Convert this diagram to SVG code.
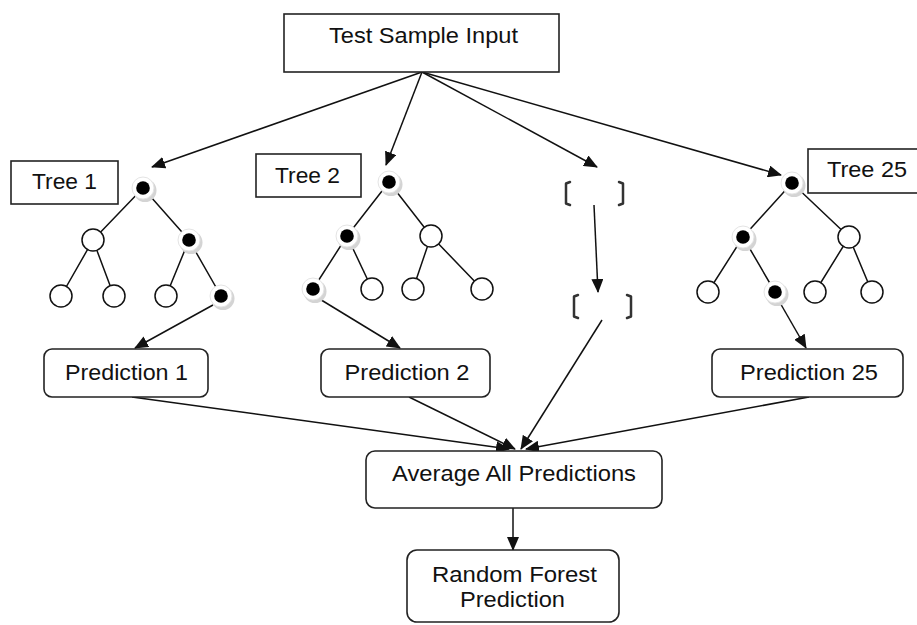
<svg xmlns="http://www.w3.org/2000/svg" width="917" height="625" viewBox="0 0 917 625">
<defs>
<marker id="ah" markerUnits="userSpaceOnUse" markerWidth="14" markerHeight="12" refX="13" refY="6" orient="auto">
<path d="M0,0 L14,6 L0,12 z" fill="#111"/>
</marker>
<g id="bn">
<circle cx="2" cy="2.5" r="11.5" fill="#d4d4d4"/>
<circle cx="0" cy="0" r="11" fill="#fff" stroke="#e4e4e4" stroke-width="1"/>
<circle cx="0" cy="0" r="6.8" fill="#000"/>
</g>
<g id="wn">
<circle cx="0" cy="0" r="11" fill="#fff" stroke="#111" stroke-width="1.5"/>
</g>
</defs>
<style>
text{font-family:"Liberation Sans",Arial,sans-serif;font-size:22px;fill:#111;text-anchor:middle}
.box{fill:#fff;stroke:#222;stroke-width:1.6}
.edge{stroke:#111;stroke-width:1.5;fill:none}
.conn line{stroke:#111;stroke-width:1.5;marker-end:url(#ah)}
.br{stroke:#333;stroke-width:2.5;fill:none;stroke-linecap:round;stroke-linejoin:round}
</style>
<rect width="917" height="625" fill="#fff"/>

<g id="connectors" class="conn">
<line x1="422" y1="72" x2="152" y2="167"/>
<line x1="422" y1="72" x2="386" y2="165"/>
<line x1="422" y1="72" x2="597" y2="167"/>
<line x1="422" y1="72" x2="781" y2="175"/>
<line x1="594" y1="205" x2="598" y2="292"/>
<line x1="213" y1="305" x2="135" y2="348"/>
<line x1="318" y1="298" x2="400" y2="348"/>
<line x1="779" y1="301" x2="806" y2="348"/>
<line x1="132" y1="397" x2="509" y2="449"/>
<line x1="409" y1="397" x2="515" y2="449"/>
<line x1="602" y1="320" x2="521" y2="449"/>
<line x1="809" y1="397" x2="526" y2="449"/>
<line x1="513" y1="508" x2="513" y2="550"/>
</g>

<g id="test-sample-input">
<rect class="box" x="284" y="14" width="275" height="58"/>
<text x="423.5" y="43" textLength="189" lengthAdjust="spacingAndGlyphs">Test Sample Input</text>
</g>

<g id="tree1-label">
<rect class="box" x="11" y="161" width="107" height="43"/>
<text x="64.5" y="189" textLength="65" lengthAdjust="spacingAndGlyphs">Tree 1</text>
</g>
<g id="tree2-label">
<rect class="box" x="256" y="154" width="105" height="43"/>
<text x="307.5" y="183" textLength="65" lengthAdjust="spacingAndGlyphs">Tree 2</text>
</g>
<g id="tree25-label">
<rect class="box" x="808" y="149" width="112" height="44"/>
<text x="867" y="177" textLength="80" lengthAdjust="spacingAndGlyphs">Tree 25</text>
</g>

<g id="tree1">
<path class="edge" d="M143,188 L93,240 M143,188 L189,240 M93,240 L61,296 M93,240 L114,296 M189,240 L166,296 M189,240 L221,296"/>
<use href="#bn" x="143" y="188"/>
<use href="#wn" x="93" y="240"/>
<use href="#bn" x="189" y="240"/>
<use href="#wn" x="61" y="296"/>
<use href="#wn" x="114" y="296"/>
<use href="#wn" x="166" y="296"/>
<use href="#bn" x="221" y="296"/>
</g>

<g id="tree2">
<path class="edge" d="M389,182 L347,236 M389,182 L431,236 M347,236 L313,289 M347,236 L372,289 M431,236 L413,289 M431,236 L482,289"/>
<use href="#bn" x="389" y="182"/>
<use href="#bn" x="347" y="236"/>
<use href="#wn" x="431" y="236"/>
<use href="#bn" x="313" y="289"/>
<use href="#wn" x="372" y="289"/>
<use href="#wn" x="413" y="289"/>
<use href="#wn" x="482" y="289"/>
</g>

<g id="tree25">
<path class="edge" d="M792,183 L743,237 M792,183 L849,237 M743,237 L708,292 M743,237 L775,292 M849,237 L815,292 M849,237 L872,292"/>
<use href="#bn" x="792" y="183"/>
<use href="#bn" x="743" y="237"/>
<use href="#wn" x="849" y="237"/>
<use href="#wn" x="708" y="292"/>
<use href="#bn" x="775" y="292"/>
<use href="#wn" x="815" y="292"/>
<use href="#wn" x="872" y="292"/>
</g>

<g id="ellipsis-top">
<path class="br" d="M570,182 L566,183.5 L566,203.5 L570,205 M619,182 L623,183.5 L623,203.5 L619,205"/>
</g>
<g id="ellipsis-bottom">
<path class="br" d="M578,295 L574,296.5 L574,316.5 L578,318 M627,295 L631,296.5 L631,316.5 L627,318"/>
</g>

<g id="prediction1">
<rect class="box" x="44" y="349" width="164" height="48" rx="8"/>
<text x="126.5" y="380" textLength="123" lengthAdjust="spacingAndGlyphs">Prediction 1</text>
</g>
<g id="prediction2">
<rect class="box" x="321" y="349" width="169" height="48" rx="8"/>
<text x="407" y="380" textLength="125" lengthAdjust="spacingAndGlyphs">Prediction 2</text>
</g>
<g id="prediction25">
<rect class="box" x="712" y="349" width="191" height="48" rx="8"/>
<text x="809" y="380" textLength="138" lengthAdjust="spacingAndGlyphs">Prediction 25</text>
</g>

<g id="average">
<rect class="box" x="366" y="451" width="296" height="57" rx="9"/>
<text x="514" y="481" textLength="244" lengthAdjust="spacingAndGlyphs">Average All Predictions</text>
</g>

<g id="random-forest">
<rect class="box" x="407" y="550" width="212" height="72" rx="10"/>
<text x="514.5" y="582" textLength="165" lengthAdjust="spacingAndGlyphs">Random Forest</text>
<text x="512.5" y="607" textLength="105" lengthAdjust="spacingAndGlyphs">Prediction</text>
</g>
</svg>
